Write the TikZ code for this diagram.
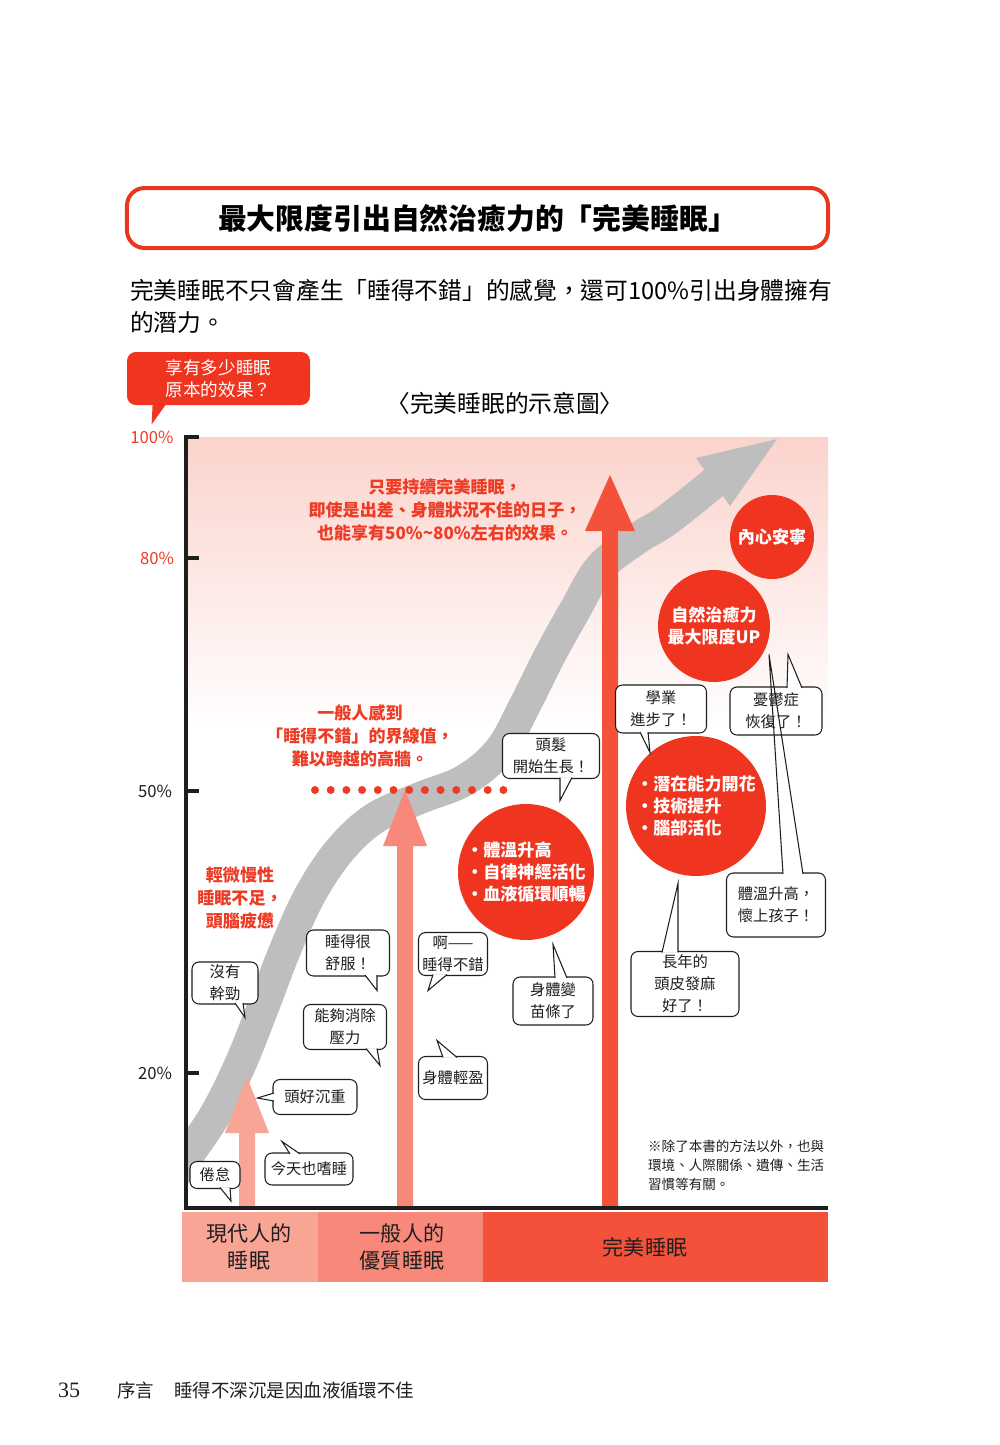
\documentclass[tikz,border=0pt]{standalone}
\usepackage{fontspec}
\setmainfont{Noto Sans CJK TC}
\newfontfamily\pagenum{Liberation Serif}
\usetikzlibrary{calc}

\definecolor{titlered}{HTML}{E8371F}
\definecolor{circred}{HTML}{EF3420}
\definecolor{redtext}{HTML}{EE3B25}
\definecolor{bgpink}{HTML}{FBD3CC}
\definecolor{curvegray}{HTML}{BEBEBE}
\definecolor{lvlone}{HTML}{F9A596}
\definecolor{lvltwo}{HTML}{F7887A}
\definecolor{lvlthree}{HTML}{F4513B}
\definecolor{inkblack}{HTML}{1E1E1E}

% tail of a speech bubble: inner point, tip, inner point
\newcommand{\speechtail}[3]{%
  \fill[white] #1 -- #2 -- #3 -- cycle;
  \draw[tailline] #1 -- #2 -- #3;}

\begin{document}
\begin{tikzpicture}[x=0.2mm,y=-0.2mm,
  talk/.style={draw=inkblack, line width=0.6pt, rounded corners=4pt, fill=white,
    align=center, inner sep=0pt, text=inkblack, font=\fontsize{8.7}{12.5}\selectfont},
  tailline/.style={draw=inkblack, line width=0.6pt},
  ball/.style={circle, fill=circred, inner sep=0pt, text=white, align=left,
    font=\bfseries\fontsize{9.7}{12.3}\selectfont},
  note/.style={text=redtext, align=center, font=\bfseries\fontsize{9.7}{13}\selectfont},
  barlabel/.style={text=inkblack, align=center, font=\fontsize{12}{15.4}\selectfont},
  axisline/.style={line width=0.8mm, inkblack},
  pct/.style={font=\fontsize{9.5}{11}\selectfont}]

\useasboundingbox (0,0) rectangle (1000,1445);
\fill[white] (0,0) rectangle (1000,1445);

% heading
\node[draw=titlered, line width=0.8mm, rounded corners=10pt, minimum width=140.2mm,
  minimum height=12mm, font=\bfseries\fontsize{16.4}{19}\selectfont] (title)
  at (477.5,218) {最大限度引出自然治癒力的「完美睡眠」};
\node[anchor=west, align=left, font=\fontsize{13.5}{18.2}\selectfont] (intro)
  at (124,306) {完美睡眠不只會產生「睡得不錯」的感覺，還可100\%引出身體擁有\\的潛力。};

% callout
\node[fill=circred, rounded corners=5pt, minimum width=36.6mm, minimum height=10.6mm,
  text=white, align=center, font=\fontsize{10}{12.5}\selectfont] (ask)
  at (218.5,378.5) {享有多少睡眠\\原本的效果？};
\fill[circred] ($(ask.south west)+(26,-2)$) -- ($(ask.south west)+(25,19)$)
  -- ($(ask.south west)+(40,-2)$) -- cycle;
\node[font=\fontsize{13.5}{16}\selectfont] (charttitle) at (505,403) {〈完美睡眠的示意圖〉};

% background
\shade[top color=bgpink, bottom color=white] (188,437) rectangle (828,730);

% gray curve
\begin{scope}
  \clip (188,420) rectangle (840,1206);
  \draw[curvegray, line width=6.4mm] plot[smooth, tension=0.6] coordinates {
    (170,1182) (186,1158) (215,1115) (240,1065) (262,1010) (285,950) (310,895)
    (340,850) (375,818) (420,798) (465,780) (500,750) (525,705) (550,655)
    (575,610) (600,568) (635,540) (667,520) (716,481)};
  \fill[curvegray] (696,458) -- (777,439) -- (730,506) -- cycle;
\end{scope}

% arrows
\foreach \ax/\tipy/\hw/\col in {247/1077/22/lvlone, 405/790/22/lvltwo, 610/475/25/lvlthree} {
  \fill[\col] (\ax-8,1208) -- (\ax-8,\tipy+56) -- (\ax-\hw,\tipy+56) -- (\ax,\tipy)
    -- (\ax+\hw,\tipy+56) -- (\ax+8,\tipy+56) -- (\ax+8,1208) -- cycle;
}

% wall
\foreach \i in {0,...,12} {
  \fill[redtext] (315+15.7*\i,790) circle (0.8mm);
}

% axes
\draw[axisline] (186,435) -- (186,1208) -- (828,1208);
\foreach \ty in {437,558,791,1073} {
  \draw[axisline] (186,\ty) -- (199,\ty);
}
\node[pct, text=redtext] (p100) at (152,437) {100\%};
\node[pct, text=redtext] (p80) at (157,558) {80\%};
\node[pct, text=inkblack] (p50) at (155,791) {50\%};
\node[pct, text=inkblack] (p20) at (155,1073) {20\%};

% notes
\node[note] (keepnote) at (445,510) {只要持續完美睡眠，\\即使是出差、身體狀況不佳的日子，\\也能享有50\%\textasciitilde80\%左右的效果。};
\node[note] (wallnote) at (360,736) {一般人感到\\「睡得不錯」的界線值，\\難以跨越的高牆。};
\node[note] (tirednote) at (240,898) {輕微慢性\\睡眠不足，\\頭腦疲憊};

% circles
\node[ball, minimum size=27.2mm] (warm) at (526,872) {・體溫升高\\・自律神經活化\\・血液循環順暢};
\node[ball, minimum size=28mm] (bloom) at (696,806) {・潛在能力開花\\・技術提升\\・腦部活化};
\node[ball, minimum size=22.4mm, align=center] (heal) at (714,626) {自然治癒力\\最大限度UP};
\node[ball, minimum size=16.8mm] (calm) at (772,537) {內心安寧};

% speech bubbles
\node[talk, minimum width=10mm, minimum height=5.4mm] (b1) at (215,1175) {倦怠};
\speechtail{($(b1.south)+(5,-1.5)$)}{($(b1.south)+(16,12)$)}{($(b1.south)+(15,-1.5)$)}
\node[talk, minimum width=17.6mm, minimum height=6.4mm] (b2) at (309,1169) {今天也嗜睡};
\speechtail{($(b2.north)+(-19,1.5)$)}{($(b2.north)+(-27,-11)$)}{($(b2.north)+(-9,1.5)$)}
\node[talk, minimum width=16.8mm, minimum height=7mm] (b3) at (315,1097) {頭好沉重};
\speechtail{($(b3.west)+(1.5,-4)$)}{($(b3.west)+(-15,1)$)}{($(b3.west)+(1.5,4)$)}
\node[talk, minimum width=13.2mm, minimum height=8.4mm] (b4) at (225,983) {沒有\\幹勁};
\speechtail{($(b4.south)+(10,-1.5)$)}{($(b4.south)+(20,13)$)}{($(b4.south)+(18,-1.5)$)}
\node[talk, minimum width=16.6mm, minimum height=9.2mm] (b5) at (348,953) {睡得很\\舒服！};
\speechtail{($(b5.south)+(17,-1.5)$)}{($(b5.south)+(29,14)$)}{($(b5.south)+(29,-1.5)$)}
\node[talk, minimum width=16.6mm, minimum height=9mm] (b6) at (345,1027) {能夠消除\\壓力};
\speechtail{($(b6.south)+(21,-1.5)$)}{($(b6.south)+(35,15.5)$)}{($(b6.south)+(32,-1.5)$)}
\node[talk, minimum width=13.8mm, minimum height=8.6mm] (b7) at (453,954) {啊——\\睡得不錯};
\speechtail{($(b7.south)+(-20,-1.5)$)}{($(b7.south)+(-25,14.5)$)}{($(b7.south)+(-6,-1.5)$)}
\node[talk, minimum width=13.8mm, minimum height=8.6mm] (b8) at (453,1078) {身體輕盈};
\speechtail{($(b8.north)+(-10,1.5)$)}{($(b8.north)+(-16,-15.5)$)}{($(b8.north)+(4,1.5)$)}
\node[talk, minimum width=19.4mm, minimum height=9mm] (b9) at (551,756) {頭髮\\開始生長！};
\speechtail{($(b9.south)+(9,-1.5)$)}{($(b9.south)+(9,21.5)$)}{($(b9.south)+(21,-1.5)$)}
\node[talk, minimum width=16mm, minimum height=9.6mm] (b10) at (553,1001) {身體變\\苗條了};
\speechtail{($(b10.north)+(2,1.5)$)}{($(b10.north)+(0,-32)$)}{($(b10.north)+(14,1.5)$)}
\node[talk, minimum width=18.2mm, minimum height=9.6mm] (b11) at (661,709) {學業\\進步了！};
\speechtail{($(b11.south)+(-21,-1.5)$)}{($(b11.south)+(-11,19)$)}{($(b11.south)+(-13,-1.5)$)}
\node[talk, minimum width=19.8mm, minimum height=12.8mm] (b14) at (776,905) {體溫升高，\\懷上孩子！};
\fill[white] ($(b14.north)+(7,1.5)$) -- ($(b14.north)+(-7,-218)$) -- ($(b14.north)+(27,1.5)$) -- cycle;
\node[talk, minimum width=18.4mm, minimum height=9.6mm] (b12) at (776,711) {憂鬱症\\恢復了！};
\speechtail{($(b12.north)+(11,1.5)$)}{($(b12.north)+(12,-32)$)}{($(b12.north)+(26,1.5)$)}
\draw[tailline] ($(b14.north)+(7,1.5)$) -- ($(b14.north)+(-7,-218)$) -- ($(b14.north)+(27,1.5)$);
\node[talk, minimum width=21.6mm, minimum height=13mm] (b13) at (685,984) {長年的\\頭皮發麻\\好了！};
\speechtail{($(b13.north)+(-23,1.5)$)}{($(b13.north)+(-7,-67.5)$)}{($(b13.north)+(-7,1.5)$)}

\node[anchor=north west, align=left, text=inkblack, font=\fontsize{7.7}{10.8}\selectfont] (footnote)
  at (642,1134) {※除了本書的方法以外，也與\\環境、人際關係、遺傳、生活\\習慣等有關。};

% bottom bar
\fill[lvlone] (182,1212) rectangle (318,1282);
\fill[lvltwo] (318,1212) rectangle (483,1282);
\fill[lvlthree] (483,1212) rectangle (828,1282);
\node[barlabel] (modern) at (249,1247) {現代人的\\睡眠};
\node[barlabel] (average) at (402,1247) {一般人的\\優質睡眠};
\node[barlabel] (perfect) at (645,1247) {完美睡眠};

% footer
\node[anchor=west, text=inkblack, font=\pagenum\fontsize{12.5}{14}\selectfont] (pageno) at (52,1390) {35};
\node[anchor=west, text=inkblack, font=\fontsize{10.5}{12}\selectfont] (runhead)
  at (111,1390) {序言\hspace{1.1em}睡得不深沉是因血液循環不佳};
\end{tikzpicture}
\end{document}
